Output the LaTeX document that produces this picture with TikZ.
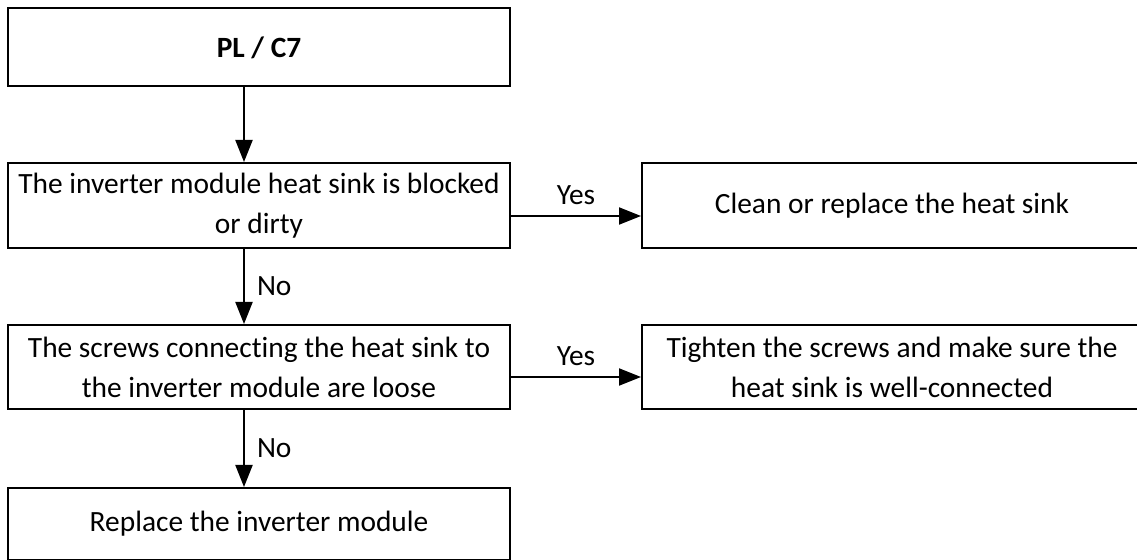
\documentclass[tikz,border=0pt]{standalone}
\usepackage{fontspec}
\setmainfont{Carlito}[Ligatures={NoCommon}]
\usetikzlibrary{arrows.meta}
\definecolor{figline}{RGB}{0,0,0}
\tikzset{
  box/.style  ={draw=figline, line width=1pt, align=center, inner sep=0pt,
                font=\fontsize{14.7}{20}\selectfont},
  lab/.style  ={font=\fontsize{14.7}{20}\selectfont, inner sep=1pt},
  ptr/.style  ={draw=figline, line width=1pt, -{Triangle[length=11pt,width=8.5pt]}},
}
\begin{document}
\begin{tikzpicture}[x=0.5pt,y=-0.5pt]
  \useasboundingbox (0,0) rectangle (1137,560);
  \node[box,minimum width=251pt,minimum height=39pt] (start) at (259,47.5) {\textbf{PL / C7}};
  \node[box,minimum width=251pt,minimum height=42.5pt] (sink) at (259,205.5) {The inverter module heat sink is blocked\\or dirty};
  \node[box,minimum width=251pt,minimum height=42pt] (screw) at (259,367) {The screws connecting the heat sink to\\the inverter module are loose};
  \node[box,minimum width=251pt,minimum height=36pt] (swap) at (259,524) {Replace the inverter module};
  \node[box,minimum width=250pt,minimum height=42.5pt] (clean) at (892,205.5) {Clean or replace the heat sink};
  \node[box,minimum width=250pt,minimum height=42pt] (tight) at (892,367) {Tighten the screws and make sure the\\heat sink is well-connected};
  \coordinate (xa) at (244,0);
  \coordinate (ya) at (0,216);
  \coordinate (yb) at (0,377);
  \draw[ptr] (start.south -| xa) -- (sink.north -| xa);
  \draw[ptr] (sink.south -| xa) -- node[lab,right=5pt] (no1) {No} (screw.north -| xa);
  \draw[ptr] (screw.south -| xa) -- node[lab,right=5pt] (no2) {No} (swap.north -| xa);
  \draw[ptr] (sink.east |- ya) -- node[lab,above=4pt] (yes1) {Yes} (clean.west |- ya);
  \draw[ptr] (screw.east |- yb) -- node[lab,above=4pt] (yes2) {Yes} (tight.west |- yb);
\end{tikzpicture}
\end{document}
